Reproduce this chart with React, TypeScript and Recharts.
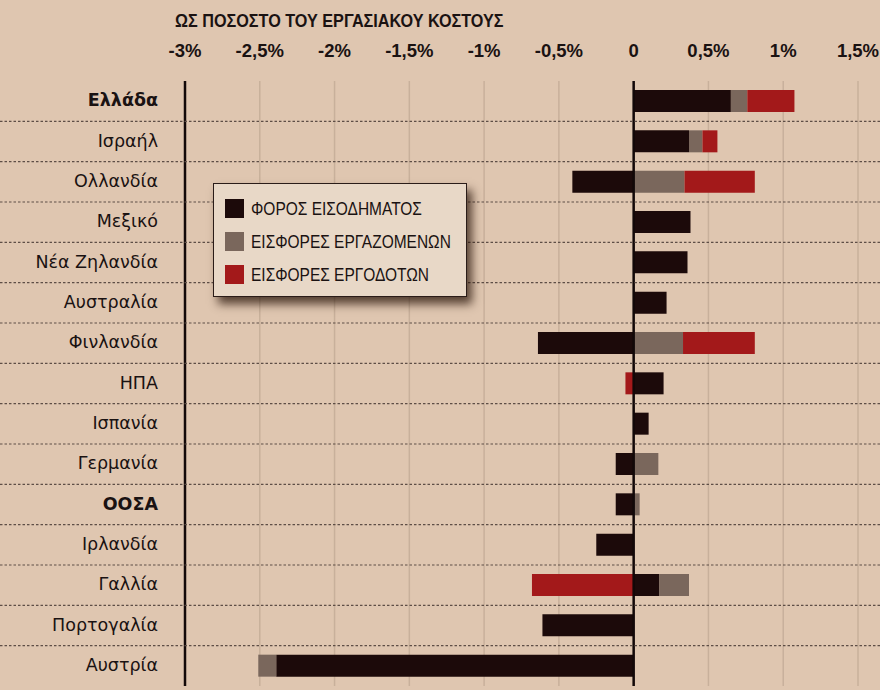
import React from 'react';
import { BarChart, Bar, XAxis, YAxis, CartesianGrid, ReferenceLine, Legend } from 'recharts';

const categories = ['Ελλάδα', 'Ισραήλ', 'Ολλανδία', 'Μεξικό', 'Νέα Ζηλανδία', 'Αυστραλία', 'Φινλανδία', 'ΗΠΑ', 'Ισπανία', 'Γερμανία', 'ΟΟΣΑ', 'Ιρλανδία', 'Γαλλία', 'Πορτογαλία', 'Αυστρία'];
const boldCategories = ['Ελλάδα', 'ΟΟΣΑ'];
const incomeTax = [0.65, 0.37, -0.41, 0.38, 0.36, 0.22, -0.64, 0.2, 0.1, -0.12, -0.12, -0.25, 0.17, -0.61, -2.39];
const employeeContrib = [0.11, 0.09, 0.34, 0, 0, 0, 0.33, 0, 0, 0.165, 0.04, 0, 0.2, 0, -0.12];
const employerContrib = [0.315, 0.1, 0.47, 0, 0, 0, 0.48, -0.055, 0, 0, 0, 0, -0.68, 0, 0];
const tickValues = [-3, -2.5, -2, -1.5, -1, -0.5, 0, 0.5, 1, 1.5];
const tickLabels = ['-3%', '-2,5%', '-2%', '-1,5%', '-1%', '-0,5%', '0', '0,5%', '1%', '1,5%'];
const seriesNames = ['ΦΟΡΟΣ ΕΙΣΟΔΗΜΑΤΟΣ', 'ΕΙΣΦΟΡΕΣ ΕΡΓΑΖΟΜΕΝΩΝ', 'ΕΙΣΦΟΡΕΣ ΕΡΓΟΔΟΤΩΝ'];
const seriesColors = ['#1c0a0a', '#7a675c', '#a3191a'];
const title = 'ΩΣ ΠΟΣΟΣΤΟ ΤΟΥ ΕΡΓΑΣΙΑΚΟΥ ΚΟΣΤΟΥΣ';

const data = categories.map((c, i) => ({
  country: c,
  income: incomeTax[i],
  employee: employeeContrib[i],
  employer: employerContrib[i],
}));

const W = 880;
const H = 690;
const TOP = 81;
const BOTTOM = 4;
const ROW_H = (H - TOP - BOTTOM) / categories.length;
const NARROW = "'Liberation Sans Narrow', 'Liberation Sans', sans-serif";

const XTick = (props: any) => {
  const { x, payload } = props;
  const idx = tickValues.indexOf(payload.value);
  return (
    <text
      x={x}
      y={57}
      textAnchor="middle"
      fontFamily="'Liberation Sans', sans-serif"
      fontWeight="bold"
      fontSize={18.5}
      fill="#1a1212"
    >
      {idx >= 0 ? tickLabels[idx] : ''}
    </text>
  );
};

const YTick = (props: any) => {
  const { y, payload, index } = props;
  const bold = boldCategories.includes(payload.value);
  const last = index === categories.length - 1;
  return (
    <g>
      {!last && (
        <line x1={0} x2={W} y1={y + ROW_H / 2} y2={y + ROW_H / 2} stroke="#5e4e46" strokeWidth={1.2} strokeDasharray="2.5 2" />
      )}
      <text
        x={158}
        y={y}
        dy={5}
        textAnchor="end"
        fontFamily="'DejaVu Sans', sans-serif"
        fontWeight={bold ? 'bold' : 'normal'}
        fontSize={17.5}
        fill="#1a1212"
      >
        {payload.value}
      </text>
    </g>
  );
};

const LegendContent = () => (
  <div
    style={{
      position: 'absolute',
      left: 213,
      top: 183,
      width: 254,
      height: 114,
      background: '#e8d8c7',
      border: '1.5px solid #2a1c18',
      boxShadow: '5px 7px 9px rgba(40,20,10,0.75)',
      boxSizing: 'border-box',
      paddingTop: 8,
      paddingLeft: 11,
    }}
  >
    {seriesNames.map((n, i) => (
      <div key={n} style={{ display: 'flex', alignItems: 'center', height: 33 }}>
        <div style={{ width: 19, height: 19, background: seriesColors[i], marginRight: 7, flex: 'none' }} />
        <span
          style={{
            display: 'inline-block',
            fontFamily: NARROW,
            fontSize: 18,
            color: '#1a1212',
            whiteSpace: 'nowrap',
            transform: 'scaleX(0.86)',
            transformOrigin: 'left center',
            marginTop: 2,
          }}
        >
          {n}
        </span>
      </div>
    ))}
  </div>
);

export default function App() {
  return (
    <div style={{ position: 'relative', width: W, height: H, background: '#dfc6b0', overflow: 'hidden' }}>
      <style>{'body{margin:0}'}</style>
      <div
        style={{
          position: 'absolute',
          left: 175,
          top: 11,
          fontFamily: NARROW,
          fontWeight: 'bold',
          fontSize: 18,
          color: '#1a1212',
          whiteSpace: 'nowrap',
          transform: 'scaleX(0.9)',
          transformOrigin: 'left top',
        }}
      >
        {title}
      </div>
      <BarChart
        width={W}
        height={H}
        data={data}
        layout="vertical"
        stackOffset="sign"
        barSize={22}
        margin={{ top: TOP - 40, right: 22, bottom: BOTTOM, left: 0 }}
      >
        <CartesianGrid horizontal={false} stroke="#c8b09b" strokeWidth={1.5} />
        <XAxis
          type="number"
          orientation="top"
          domain={[-3, 1.5]}
          ticks={tickValues}
          height={40}
          axisLine={false}
          tickLine={false}
          tick={<XTick />}
          interval={0}
        />
        <YAxis
          type="category"
          dataKey="country"
          width={185}
          axisLine={{ stroke: '#120808', strokeWidth: 2.5 }}
          tickLine={false}
          tick={<YTick />}
          interval={0}
        />
        <Legend content={<LegendContent />} wrapperStyle={{ position: 'absolute', left: 0, top: 0, width: 0, height: 0 }} />
        <Bar dataKey="income" name={seriesNames[0]} stackId="a" fill={seriesColors[0]} isAnimationActive={false} />
        <Bar dataKey="employee" name={seriesNames[1]} stackId="a" fill={seriesColors[1]} isAnimationActive={false} />
        <Bar dataKey="employer" name={seriesNames[2]} stackId="a" fill={seriesColors[2]} isAnimationActive={false} />
        <ReferenceLine x={0} stroke="#120808" strokeWidth={2.5} />
      </BarChart>
    </div>
  );
}
